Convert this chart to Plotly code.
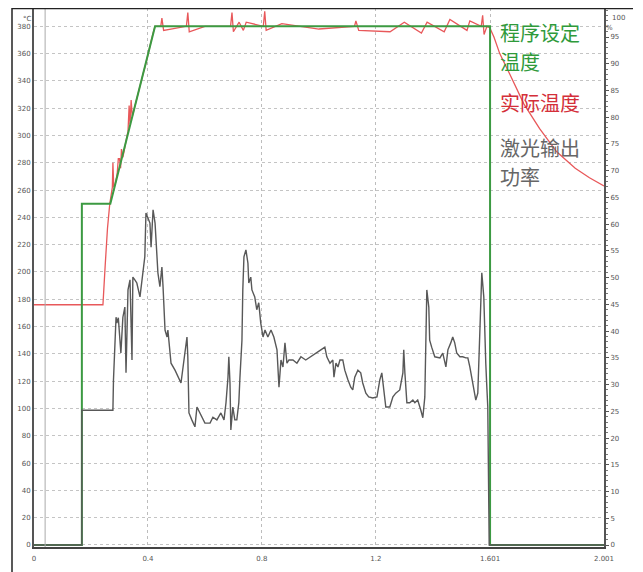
import plotly.graph_objects as go

# ---- data ----
# Program set temperature (°C)
set_x = [0, 0.168, 0.168, 0.268, 0.425, 1.601, 1.601, 2.001]
set_y = [0, 0, 250, 250, 380, 380, 0, 0]

# Actual temperature (°C)
act_x = [0, 0.242, 0.250, 0.258, 0.266, 0.275, 0.277, 0.280, 0.285, 0.292, 0.296, 0.300,
         0.304, 0.307, 0.312, 0.318, 0.324, 0.330, 0.334, 0.337, 0.341, 0.345, 0.352,
         0.360, 0.368, 0.376, 0.384, 0.392, 0.400, 0.410, 0.418, 0.425,
         0.445, 0.449, 0.455, 0.535, 0.540, 0.545, 0.600, 0.690, 0.695, 0.700, 0.720,
         0.735, 0.745, 0.805, 0.810, 0.815, 0.870, 1.000, 1.125, 1.130, 1.140, 1.250,
         1.300, 1.360, 1.380, 1.440, 1.460, 1.520, 1.530, 1.570, 1.575, 1.580, 1.590, 1.600,
         1.615, 1.635, 1.670, 1.720, 1.775, 1.835, 1.900, 1.950, 2.001]
act_y = [176, 176, 205, 232, 250, 262, 280, 262, 264, 272, 283, 283,
         276, 290, 284, 292, 297, 303, 322, 308, 326, 314, 320,
         326, 333, 340, 346, 352, 360, 368, 375, 380,
         380, 386, 377, 380, 390, 376, 380, 380, 390, 376, 383,
         377, 383, 380, 391, 377, 382, 378, 380, 384, 377, 376,
         383, 375, 383, 376, 385, 377, 384, 380, 388, 374, 380, 379,
         372, 360, 345, 323, 305, 288, 276, 269, 263]

# Laser output power (%)
las_x = [0, 0.168, 0.168, 0.277, 0.279, 0.282, 0.288, 0.291, 0.296, 0.305, 0.312, 0.319,
         0.323, 0.330, 0.337, 0.344, 0.347, 0.354, 0.361, 0.372, 0.382, 0.389, 0.393,
         0.400, 0.407, 0.411, 0.418, 0.425, 0.432, 0.435, 0.442, 0.449, 0.453, 0.460,
         0.467, 0.470, 0.481, 0.495, 0.516, 0.526, 0.537, 0.540, 0.544, 0.554, 0.565,
         0.572, 0.582, 0.593, 0.600, 0.618, 0.628, 0.642, 0.656, 0.667, 0.674, 0.681,
         0.684, 0.688, 0.691, 0.698, 0.705, 0.712, 0.719, 0.723, 0.730, 0.733, 0.737,
         0.744, 0.751, 0.754, 0.761, 0.765, 0.775, 0.782, 0.789, 0.796, 0.804, 0.811,
         0.821, 0.832, 0.842, 0.853, 0.856, 0.860, 0.867, 0.874, 0.881, 0.888, 0.895,
         0.909, 0.923, 0.937, 0.954, 0.972, 0.989, 1.007, 1.021, 1.028, 1.039, 1.049,
         1.053, 1.060, 1.067, 1.074, 1.084, 1.091, 1.102, 1.112, 1.119, 1.126, 1.137,
         1.147, 1.154, 1.165, 1.175, 1.189, 1.204, 1.214, 1.221, 1.228, 1.235, 1.249,
         1.260, 1.270, 1.284, 1.295, 1.298, 1.302, 1.309, 1.319, 1.330, 1.337, 1.347,
         1.358, 1.365, 1.372, 1.375, 1.379, 1.386, 1.389, 1.396, 1.407, 1.425, 1.435,
         1.446, 1.453, 1.463, 1.470, 1.477, 1.484, 1.495, 1.505, 1.516, 1.523, 1.530,
         1.540, 1.551, 1.558, 1.565, 1.568, 1.572, 1.579, 1.582, 1.586, 1.589, 1.593,
         1.598, 2.001]
las_y = [0, 0, 25.2, 25.2, 30.9, 35.9, 42.6, 41.5, 42.5, 35.9, 42.6, 44.5,
         32.2, 47.7, 49.6, 34.6, 50.1, 49.6, 49.0, 46.4, 51.1, 53.9, 62.1,
         61.3, 60.2, 55.7, 62.7, 60.2, 54.6, 50.9, 48.3, 52.0, 48.3, 40.2,
         38.9, 40.2, 34.0, 32.7, 30.3, 34.0, 38.9, 35.2, 24.7, 23.4, 22.1,
         25.8, 24.7, 23.4, 22.8, 22.8, 23.9, 23.4, 24.7, 23.4, 26.6, 31.4,
         35.2, 30.3, 21.5, 25.8, 23.4, 23.4, 26.6, 31.4, 38.3, 47.7, 53.9,
         55.2, 52.7, 49.0, 50.1, 47.7, 46.4, 44.0, 45.3, 41.5, 38.9, 40.2,
         38.9, 40.2, 38.9, 36.5, 34.0, 29.5, 34.6, 33.3, 37.8, 34.0, 34.6,
         34.6, 34.0, 35.2, 34.6, 35.2, 35.9, 36.5, 37.0, 35.2, 34.0, 34.6,
         31.4, 34.0, 33.3, 34.6, 34.6, 32.7, 30.9, 29.5, 29.0, 31.4, 32.7,
         32.2, 30.3, 28.4, 27.7, 27.5, 27.7, 30.9, 32.2, 29.0, 25.8, 25.8,
         27.7, 28.4, 29.0, 32.2, 36.5, 32.2, 26.6, 26.6, 27.1, 26.6, 27.1,
         25.2, 23.8, 27.7, 40.2, 47.7, 44.5, 38.3, 37.0, 35.2, 35.0, 35.9,
         33.3, 36.5, 37.8, 38.9, 37.8, 35.9, 35.2, 35.2, 35.0, 35.0, 33.3,
         30.3, 27.1, 28.4, 40.2, 47.7, 50.9, 46.4, 38.9, 34.0, 30.3, 25.8,
         0, 0]

x_tickvals = [0, 0.4, 0.8, 1.2, 1.601, 2.001]
x_ticktext = ["0", "0.4", "0.8", "1.2", "1.601", "2.001"]
left_ticks = list(range(0, 381, 20))
right_ticks = list(range(0, 96, 5))

legend_lines = [("程序设定", "#2f9a3a"), ("温度", "#2f9a3a"), ("实际温度", "#d42f3a"),
                ("激光输出", "#666666"), ("功率", "#666666")]

# ---- figure ----
# page body has an 8px default margin, so the figure is sized to fit the window
W, H = 635, 564
L, R, T, B = 26, 39, 0, 25
PW, PH = W - L - R, H - T - B   # plot area 570 x 539

fig = go.Figure()
fig.add_trace(go.Scatter(x=act_x, y=act_y, mode="lines",
                         line=dict(color="#e8585a", width=1.3), yaxis="y"))
fig.add_trace(go.Scatter(x=las_x, y=las_y, mode="lines",
                         line=dict(color="#585858", width=1.4), yaxis="y2"))
fig.add_trace(go.Scatter(x=set_x, y=set_y, mode="lines",
                         line=dict(color="#3c9a42", width=2), yaxis="y"))

tickfont = dict(family="DejaVu Sans", size=7, color="#555555")

fig.update_layout(
    width=W, height=H, showlegend=False,
    margin=dict(l=L, r=R, t=T, b=B, autoexpand=False),
    paper_bgcolor="white", plot_bgcolor="white",
    xaxis=dict(range=[0, 2.001], tickvals=x_tickvals, ticktext=x_ticktext,
               tickfont=tickfont, showgrid=True, gridcolor="#bdbdbd", griddash="dot",
               gridwidth=1, zeroline=False, showline=True, linecolor="#444444",
               linewidth=2, ticks="", ticklabelstandoff=4, automargin=False),
    yaxis=dict(range=[-1.5, 393.4], tickvals=left_ticks, tickfont=tickfont,
               showgrid=True, gridcolor="#c4c4c4", griddash="dot", gridwidth=1,
               zeroline=False, showline=True, linecolor="#555555", linewidth=2,
               ticks="", automargin=False),
    yaxis2=dict(range=[-0.374, 100.43], tickvals=right_ticks, tickfont=tickfont,
                overlaying="y", side="right", showgrid=False, zeroline=False,
                showline=True, linecolor="#555555", linewidth=2,
                ticks="outside", ticklen=3, tickcolor="#555555", automargin=False,
                minor=dict(dtick=1, ticks="outside", ticklen=2, tickcolor="#777777")),
)

def px_x(p):  # page pixel x -> paper
    return (p - 34) / PW

def px_y(p):  # page pixel y -> paper
    return (547 - p) / PH

# marker line near start
fig.add_shape(type="line", xref="x", yref="paper", x0=0.039, x1=0.039, y0=0, y1=1,
              line=dict(color="#aaaaaa", width=1))
# outer frame (left and top)
fig.add_shape(type="line", xref="paper", yref="paper", x0=px_x(12), x1=px_x(12),
              y0=-0.05, y1=1.0, line=dict(color="#222222", width=1.5))
fig.add_shape(type="line", xref="paper", yref="paper", x0=px_x(12), x1=px_x(633),
              y0=0.999, y1=0.999, line=dict(color="#222222", width=1.5))

# unit labels and top right tick label
fig.add_annotation(text="°C", xref="paper", yref="paper", x=px_x(21), y=px_y(13),
                   showarrow=False, font=dict(family="DejaVu Sans", size=7, color="#555555"))
fig.add_annotation(text="100", xref="paper", yref="paper", x=px_x(610), y=px_y(12),
                   xanchor="left", showarrow=False,
                   font=dict(family="DejaVu Sans", size=7, color="#555555"))
fig.add_annotation(text="%", xref="paper", yref="paper", x=px_x(615), y=px_y(22),
                   showarrow=False, font=dict(family="DejaVu Sans", size=7, color="#555555"))

# legend text
legend_y = [32, 61, 103, 147, 176]
for (txt, col), py in zip(legend_lines, legend_y):
    fig.add_annotation(text=txt, xref="paper", yref="paper", x=px_x(498),
                       y=px_y(py), xanchor="left", yanchor="middle", showarrow=False,
                       font=dict(family="Noto Sans CJK SC", size=20, color=col))

fig.write_html("out.html")
